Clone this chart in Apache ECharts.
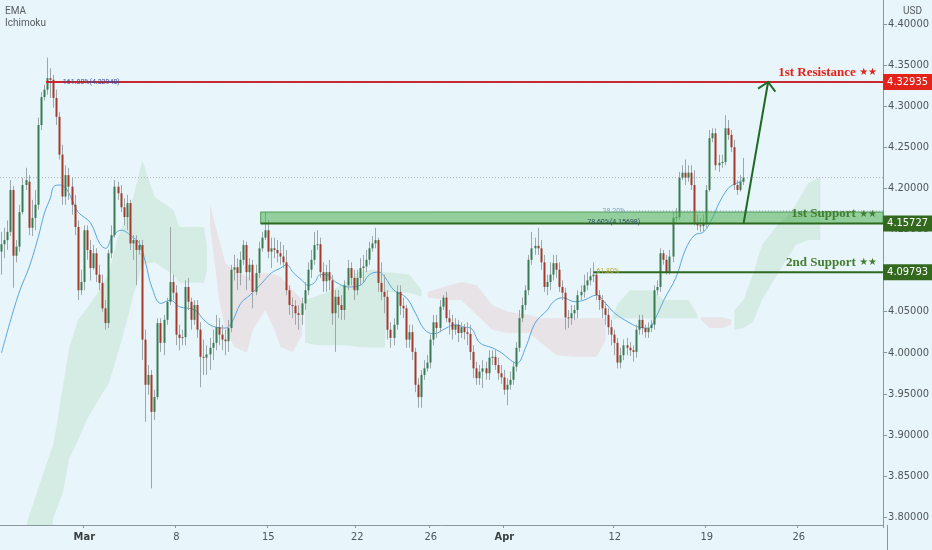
<!DOCTYPE html>
<html><head><meta charset="utf-8">
<script src="https://cdn.jsdelivr.net/npm/echarts@6/dist/echarts.min.js"></script>
<style>html,body{margin:0;padding:0;background:#e8f5fa;}#c{width:932px;height:550px;}</style>
</head><body><div id="c"></div>
<script>
// ---------- data (4H candles) ----------
const opens = [
4.123,4.132,4.137,4.147,4.198,4.118,4.129,4.171,4.204,4.208,
4.152,4.164,4.180,4.277,4.311,4.320,4.334,4.332,4.310,4.287,
4.241,4.190,4.216,4.202,4.180,4.153,4.076,4.086,4.149,4.125,
4.103,4.121,4.095,4.085,4.054,4.036,4.121,4.143,4.202,4.194,
4.177,4.165,4.182,4.133,4.137,4.125,4.131,4.016,3.961,3.973,
3.928,3.946,4.036,4.012,4.040,4.062,4.086,4.073,4.022,4.018,
4.019,4.080,4.062,4.040,4.058,4.028,3.995,3.994,3.998,4.006,
4.012,4.031,4.022,4.016,4.014,4.030,4.101,4.104,4.097,4.113,
4.131,4.098,4.107,4.074,4.097,4.127,4.140,4.149,4.123,4.127,
4.125,4.121,4.117,4.110,4.076,4.058,4.057,4.048,4.046,4.060,
4.076,4.101,4.113,4.131,4.132,4.098,4.087,4.098,4.088,4.048,
4.068,4.058,4.052,4.082,4.103,4.091,4.076,4.091,4.103,4.105,
4.113,4.127,4.133,4.137,4.085,4.074,4.068,4.028,4.018,4.034,
4.074,4.057,4.054,4.016,4.025,4.001,3.961,3.946,3.973,3.981,
3.988,4.016,4.037,4.030,4.056,4.067,4.042,4.037,4.028,4.034,
4.024,4.031,4.025,4.023,4.001,3.981,3.969,3.977,3.981,3.975,
3.994,3.995,3.985,3.975,3.970,3.955,3.961,3.967,3.983,4.006,
4.042,4.058,4.076,4.113,4.127,4.130,4.127,4.110,4.080,4.086,
4.095,4.109,4.101,4.080,4.073,4.043,4.042,4.048,4.052,4.070,
4.074,4.082,4.088,4.093,4.095,4.070,4.064,4.054,4.046,4.031,
4.022,4.012,3.988,3.997,4.009,4.006,4.003,4.001,4.028,4.040,
4.030,4.025,4.030,4.034,4.076,4.080,4.121,4.113,4.098,4.117,
4.164,4.165,4.213,4.219,4.213,4.219,4.204,4.158,4.155,4.154,
4.158,4.198,4.261,4.267,4.228,4.231,4.232,4.273,4.265,4.250,
4.204,4.198,4.208];
const closes = [
4.132,4.137,4.147,4.198,4.118,4.129,4.171,4.204,4.210,4.152,
4.164,4.180,4.277,4.311,4.320,4.334,4.332,4.310,4.287,4.241,
4.190,4.216,4.202,4.180,4.153,4.076,4.086,4.149,4.125,4.103,
4.121,4.095,4.085,4.054,4.036,4.121,4.143,4.202,4.194,4.177,
4.165,4.182,4.133,4.137,4.125,4.131,4.016,3.961,3.973,3.928,
3.946,4.036,4.012,4.040,4.062,4.086,4.073,4.022,4.018,4.019,
4.080,4.062,4.040,4.058,4.028,3.995,3.994,3.998,4.006,4.012,
4.031,4.022,4.016,4.014,4.030,4.101,4.104,4.097,4.113,4.131,
4.098,4.107,4.074,4.097,4.127,4.140,4.149,4.123,4.127,4.125,
4.121,4.117,4.110,4.076,4.058,4.057,4.048,4.046,4.060,4.076,
4.101,4.113,4.131,4.132,4.098,4.087,4.098,4.088,4.048,4.068,
4.058,4.052,4.082,4.103,4.091,4.076,4.091,4.103,4.105,4.113,
4.127,4.133,4.137,4.085,4.074,4.068,4.028,4.018,4.034,4.074,
4.057,4.054,4.016,4.025,4.001,3.961,3.946,3.973,3.981,3.988,
4.016,4.037,4.030,4.056,4.067,4.042,4.037,4.028,4.034,4.024,
4.031,4.025,4.023,4.001,3.981,3.969,3.977,3.981,3.975,3.994,
3.995,3.985,3.975,3.970,3.955,3.961,3.967,3.983,4.006,4.042,
4.058,4.076,4.113,4.127,4.130,4.127,4.110,4.080,4.086,4.095,
4.109,4.101,4.080,4.073,4.043,4.042,4.048,4.052,4.070,4.074,
4.082,4.088,4.093,4.095,4.070,4.064,4.054,4.046,4.031,4.022,
4.012,3.988,3.997,4.009,4.006,4.003,4.001,4.028,4.040,4.030,
4.025,4.030,4.034,4.076,4.080,4.121,4.113,4.098,4.117,4.164,
4.165,4.213,4.219,4.213,4.219,4.204,4.158,4.155,4.154,4.158,
4.198,4.261,4.267,4.228,4.231,4.232,4.273,4.265,4.250,4.204,
4.198,4.208,4.213];
const lows = [
4.095,4.115,4.125,4.142,4.079,4.110,4.123,4.168,4.198,4.143,
4.142,4.149,4.174,4.271,4.307,4.314,4.310,4.298,4.277,4.235,
4.180,4.180,4.186,4.168,4.143,4.064,4.070,4.076,4.113,4.088,
4.101,4.086,4.076,4.050,4.028,4.030,4.115,4.140,4.186,4.171,
4.155,4.149,4.125,4.113,4.082,4.119,3.991,3.916,3.949,3.835,
3.918,3.943,4.001,3.997,4.034,4.058,4.064,4.009,4.003,4.009,
4.009,4.052,4.028,4.034,4.018,3.958,3.973,3.973,3.979,3.991,
4.003,4.009,4.003,3.997,4.001,4.025,4.088,4.076,4.082,4.107,
4.076,4.088,4.054,4.070,4.091,4.123,4.137,4.115,4.103,4.115,
4.110,4.107,4.103,4.070,4.046,4.042,4.034,4.028,4.034,4.052,
4.070,4.091,4.107,4.125,4.091,4.074,4.074,4.076,4.034,4.001,
4.042,4.040,4.040,4.076,4.082,4.064,4.070,4.082,4.086,4.098,
4.107,4.123,4.127,4.074,4.064,4.048,4.016,4.006,4.009,4.028,
4.046,4.042,4.006,4.006,3.991,3.952,3.933,3.933,3.967,3.977,
3.981,4.009,4.018,4.025,4.052,4.037,4.022,4.016,4.022,4.013,
4.018,4.016,4.009,3.991,3.969,3.961,3.961,3.957,3.967,3.967,
3.985,3.979,3.967,3.962,3.949,3.936,3.955,3.961,3.977,4.001,
4.037,4.052,4.070,4.107,4.119,4.119,4.101,4.074,4.070,4.076,
4.088,4.091,4.074,4.064,4.028,4.030,4.034,4.040,4.042,4.064,
4.067,4.076,4.082,4.086,4.064,4.052,4.042,4.034,4.022,4.009,
3.997,3.981,3.981,3.991,3.997,3.996,3.989,3.994,4.022,4.022,
4.018,4.018,4.025,4.028,4.070,4.074,4.107,4.095,4.095,4.110,
4.159,4.161,4.210,4.204,4.208,4.198,4.155,4.149,4.147,4.147,
4.152,4.196,4.256,4.222,4.220,4.225,4.228,4.259,4.244,4.198,
4.192,4.196,4.204];
const highs = [
4.147,4.152,4.161,4.210,4.203,4.137,4.180,4.213,4.225,4.216,
4.186,4.198,4.286,4.317,4.326,4.359,4.346,4.338,4.320,4.293,
4.253,4.228,4.225,4.213,4.192,4.161,4.101,4.155,4.155,4.137,
4.131,4.127,4.107,4.095,4.064,4.125,4.155,4.210,4.208,4.204,
4.188,4.192,4.186,4.143,4.143,4.137,4.137,4.028,3.985,3.979,
3.955,4.042,4.042,4.046,4.067,4.153,4.095,4.082,4.034,4.028,
4.088,4.091,4.067,4.064,4.064,4.037,4.016,4.009,4.018,4.028,
4.046,4.042,4.034,4.028,4.040,4.107,4.119,4.115,4.123,4.137,
4.135,4.115,4.113,4.107,4.135,4.147,4.171,4.161,4.140,4.140,
4.137,4.135,4.131,4.125,4.082,4.067,4.064,4.058,4.067,4.086,
4.110,4.125,4.147,4.149,4.140,4.110,4.107,4.113,4.095,4.076,
4.076,4.070,4.088,4.113,4.110,4.101,4.101,4.115,4.119,4.125,
4.135,4.142,4.152,4.140,4.110,4.095,4.076,4.037,4.042,4.082,
4.082,4.067,4.058,4.034,4.034,4.006,3.969,3.979,3.991,3.997,
4.022,4.046,4.046,4.064,4.070,4.074,4.052,4.046,4.042,4.040,
4.037,4.035,4.037,4.034,4.009,3.989,3.985,3.991,3.989,4.003,
4.003,4.003,3.994,3.985,3.979,3.969,3.977,3.989,4.013,4.052,
4.067,4.082,4.119,4.147,4.140,4.152,4.137,4.119,4.095,4.110,
4.119,4.119,4.110,4.088,4.079,4.052,4.058,4.058,4.076,4.082,
4.095,4.098,4.103,4.110,4.098,4.076,4.070,4.062,4.054,4.040,
4.028,4.018,4.006,4.016,4.018,4.013,4.009,4.034,4.046,4.046,
4.034,4.037,4.040,4.082,4.088,4.127,4.125,4.119,4.125,4.171,
4.176,4.220,4.228,4.235,4.228,4.228,4.222,4.168,4.164,4.168,
4.204,4.271,4.273,4.273,4.241,4.241,4.289,4.283,4.271,4.259,
4.210,4.216,4.237];

// EMA read at sample bars: [bar, value]
const emaPoints = [[0,4.000],[3,4.040],[6,4.076],[9,4.104],[12,4.141],[14,4.170],[16,4.189],[17,4.202],[19,4.204],[21,4.200],[23,4.186],[25,4.171],[29,4.158],[32,4.133],[34,4.127],[36,4.140],[39,4.149],[43,4.140],[45,4.133],[47,4.109],[49,4.080],[52,4.060],[55,4.064],[58,4.056],[63,4.052],[66,4.040],[69,4.032],[73,4.030],[75,4.036],[78,4.060],[81,4.070],[85,4.085],[88,4.097],[91,4.103],[93,4.107],[95,4.098],[98,4.088],[100,4.082],[102,4.085],[104,4.095],[106,4.095],[109,4.086],[113,4.080],[117,4.082],[120,4.095],[123,4.098],[125,4.092],[128,4.076],[132,4.067],[135,4.048],[138,4.028],[141,4.023],[145,4.030],[148,4.034],[151,4.031],[153,4.030],[156,4.012],[160,4.006],[163,4.000],[166,3.991],[168,3.987],[171,4.007],[174,4.036],[178,4.052],[180,4.062],[183,4.067],[187,4.062],[190,4.064],[194,4.070],[197,4.060],[200,4.048],[205,4.036],[208,4.031],[211,4.030],[213,4.040],[216,4.064],[220,4.092],[223,4.125],[226,4.143],[229,4.147],[232,4.165],[234,4.182],[237,4.200],[239,4.205],[242,4.210]];

// Ichimoku cloud segments: [bar, upper edge, lower edge]
const cloudG1 = [[8,3.790,3.700],[12,3.835,3.700],[17,3.890,3.800],[20,3.958,3.830],[22,4.005,3.870],[25,4.040,3.894],[28,4.055,3.920],[32,4.076,3.945],[35,4.097,3.963],[38,4.141,4.000],[41,4.168,4.040],[43,4.190,4.070],[46,4.234,4.107],[48,4.210,4.109],[50,4.189,4.110],[56,4.174,4.095],[58,4.153,4.085],[66,4.153,4.085],[67,4.130,4.100]];
const cloudR1 = [[68,4.180,4.155],[71,4.137,4.064],[73,4.109,4.028],[76,4.101,4.007],[80,4.092,4.000],[82,4.095,4.028],[86,4.097,4.052],[89,4.095,4.028],[91,4.092,4.007],[95,4.076,4.001],[98,4.064,4.022]];
const cloudG2 = [[99,4.064,4.012],[103,4.069,4.009],[108,4.076,4.009],[113,4.088,4.009],[116,4.098,4.007],[121,4.101,4.006],[125,4.098,4.006],[126,4.098,4.074],[133,4.095,4.073],[137,4.076,4.068]];
const cloudR2 = [[139,4.074,4.067],[146,4.082,4.064],[150,4.086,4.064],[155,4.082,4.046],[160,4.058,4.028],[165,4.050,4.024],[172,4.046,4.024],[176,4.042,4.012],[181,4.042,3.997],[187,4.042,3.995],[194,4.042,3.995],[197,4.042,4.015]];
const cloudG3 = [[199,4.042,4.040],[201,4.060,4.042],[205,4.076,4.042],[212,4.076,4.042],[216,4.064,4.042],[224,4.064,4.042],[227,4.046,4.042]];
const cloudR3 = [[228,4.043,4.040],[231,4.043,4.030],[235,4.043,4.030],[238,4.040,4.034]];
const cloudG4 = [[239,4.052,4.028],[242,4.064,4.030],[245,4.095,4.037],[248,4.131,4.064],[253,4.155,4.095],[256,4.165,4.113],[259,4.180,4.131],[263,4.206,4.137],[267,4.214,4.137]];

// axis ticks
const yTicks = [3.80,3.85,3.90,3.95,4.00,4.05,4.10,4.15,4.20,4.25,4.30,4.35,4.40];
const dateTickBars = [27,57,87,116,140,164,200,230,260];
const dateTickLabels = ['Mar','8','15','22','26','Apr','12','19','26'];
const monthLabels = ['Mar','Apr'];

// levels and drawings
const resistance = 4.32935, support1 = 4.15727, support2 = 4.09793;
const zoneTop = 4.1712, lastPrice = 4.2130;
const resistanceStartBar = 15, zoneStartBar = 85, support2StartBar = 193;
const levelNames = ['1st Resistance','1st Support','2nd Support'];
const levelStars = '★★';
const levelValues = [resistance, support1, support2];
const levelBoxTexts = ['4.32935','4.15727','4.09793'];
const fibLabels = ['161.80%(4.32940)','38.20%','78.60%(4.15698)','61.80%'];
const fibValues = [4.32940, 4.1712, 4.15698, 4.09793];
const fibLabelBars = [20, 196, 191, 194];
const fib161StartBar = 15, fib382StartBar = 202;
const arrowFrom = [242, support1], arrowTo = [250, resistance];

// ---------- chart ----------
const SLOTS = 288;
const cats = [];
for (let i = 0; i < SLOTS; i++) cats.push('');
dateTickBars.forEach((b, k) => { cats[b] = dateTickLabels[k]; });

const candleData = opens.map((o, i) => [i, o, closes[i], lows[i], highs[i]]);

function renderCandle(params, api) {
  const i = api.value(0), o = api.value(1), c = api.value(2), l = api.value(3), h = api.value(4);
  const pO = api.coord([i, o]), pC = api.coord([i, c]), pL = api.coord([i, l]), pH = api.coord([i, h]);
  const cx = pO[0];
  const up = c >= o;
  const top = Math.min(pO[1], pC[1]), bot = Math.max(pO[1], pC[1]);
  const wx = Math.floor(cx) + 0.5;
  return { type: 'group', children: [
    { type: 'line', shape: { x1: wx, y1: pH[1], x2: wx, y2: pL[1] }, style: { stroke: '#9ea7a9', lineWidth: 1 } },
    { type: 'rect', shape: { x: Math.floor(cx) - 0.5, y: top, width: 2, height: Math.max(1, bot - top) },
      style: { fill: up ? '#3b7b52' : '#a33a2b' } }
  ]};
}

function makeCloudSeries(segs, fill) {
  return {
    type: 'custom', coordinateSystem: 'cartesian2d', clip: true, silent: true, z: 1,
    data: segs.map(s => [s[0][0], s[0][1]]),
    encode: { x: 0, y: 1 },
    renderItem: (params, api) => {
      const seg = segs[params.dataIndex];
      const pts = seg.map(p => api.coord([p[0], p[1]]));
      const lower = seg.map(p => api.coord([p[0], p[2]])).reverse();
      return { type: 'polygon', shape: { points: pts.concat(lower) }, style: { fill } };
    }
  };
}

function renderOverlay(params, api) {
  const cs = params.coordSys;
  const right = cs.x + cs.width;
  const W = api.getWidth();
  const slot = cs.width / SLOTS;
  const P = (i, v) => api.coord([i, v]);
  const kids = [];
  const hline = (x1, y, x2, stroke, w, dash) => kids.push({ type: 'line',
    shape: { x1, y1: y, x2, y2: y }, style: { stroke, lineWidth: w, lineDash: dash || null } });
  const serifFam = '"Liberation Serif", "DejaVu Serif", serif';
  const small = '7px Roboto, "DejaVu Sans", sans-serif';
  const boxFont = '11px "Liberation Sans Narrow", "DejaVu Sans Condensed", sans-serif';

  // last price dotted line
  hline(cs.x, P(0, lastPrice)[1], right, '#a9b2b6', 1, [1, 2]);

  // support zone
  const zt = P(zoneStartBar, zoneTop), zb = P(zoneStartBar, support1);
  const zx = zt[0] - slot / 2;
  kids.push({ type: 'rect', shape: { x: zx, y: zt[1], width: right - zx, height: zb[1] - zt[1] },
    style: { fill: 'rgba(76,175,80,0.55)', stroke: 'rgba(56,142,60,0.8)', lineWidth: 1 } });

  // resistance line + fib dotted overlay
  const yR = P(0, resistance)[1];
  hline(P(resistanceStartBar, resistance)[0] - slot / 2, yR, right, '#e32219', 2.2);
  hline(P(fib161StartBar, fibValues[0])[0], P(0, fibValues[0])[1], right, '#3b4aa0', 1, [1, 2]);
  // 38.2% dotted
  hline(P(fib382StartBar, fibValues[1])[0], P(0, fibValues[1])[1] - 1, right, '#7f9fb8', 1, [1, 2]);

  // support lines
  hline(zx, P(0, support1)[1], right, '#2d6a1f', 2);
  hline(P(support2StartBar, support2)[0], P(0, support2)[1], right, '#2d6a1f', 2);

  // arrow
  const a1 = P(arrowFrom[0], arrowFrom[1]), a2 = P(arrowTo[0], arrowTo[1]);
  kids.push({ type: 'line', shape: { x1: a1[0], y1: a1[1], x2: a2[0], y2: a2[1] }, style: { stroke: '#1e6a22', lineWidth: 2 } });
  const ang = Math.atan2(a2[1] - a1[1], a2[0] - a1[0]);
  const L = 12, sp = 0.82;
  kids.push({ type: 'polyline', shape: { points: [
    [a2[0] - L * Math.cos(ang - sp), a2[1] - L * Math.sin(ang - sp)], [a2[0], a2[1]],
    [a2[0] - L * Math.cos(ang + sp), a2[1] - L * Math.sin(ang + sp)] ] },
    style: { stroke: '#1e6a22', lineWidth: 2, fill: null } });

  // fib labels
  const fibColors = ['#3b4aa0', '#7fa2bf', '#2f4c63', '#bfae3a'];
  const fibDy = [0, -1, -1, -1];
  fibLabels.forEach((t, k) => {
    const p = P(fibLabelBars[k], fibValues[k]);
    kids.push({ type: 'text', x: p[0], y: p[1] + fibDy[k], style: { text: t, fill: fibColors[k], font: small, align: 'left', verticalAlign: 'middle' } });
  });

  // level names and price boxes
  const nameColors = ['#e32219', '#437d2f', '#437d2f'];
  const boxColors = ['#e32219', '#33691e', '#33691e'];
  levelValues.forEach((v, k) => {
    const y = P(0, v)[1];
    kids.push({ type: 'text', x: right - 6, y: y - 3, style: {
      text: '{t|' + levelNames[k] + '} {s|' + levelStars + '}',
      align: 'right', verticalAlign: 'bottom',
      rich: {
        t: { fill: nameColors[k], fontFamily: serifFam, fontWeight: 'bold', fontSize: 13 },
        s: { fill: nameColors[k], fontFamily: '"DejaVu Sans", sans-serif', fontSize: 10 }
      } } });
    kids.push({ type: 'rect', shape: { x: right, y: y - 8, width: W - right, height: 16 }, style: { fill: boxColors[k] } });
    kids.push({ type: 'text', x: right + (W - right) / 2, y: y, style: { text: levelBoxTexts[k], fill: '#ffffff', font: boxFont, align: 'center', verticalAlign: 'middle' } });
  });
  return { type: 'group', children: kids };
}

const chart = echarts.init(document.getElementById('c'), null, { renderer: 'canvas' });
chart.setOption({
  backgroundColor: '#e8f5fa',
  animation: false,
  grid: { left: 0, right: 45, top: 0, bottom: 25, containLabel: false },
  xAxis: {
    type: 'category', data: cats, boundaryGap: true,
    axisLine: { lineStyle: { color: '#8c979c', width: 1 } },
    axisTick: { show: true, length: 3, interval: (i, v) => v !== '', lineStyle: { color: '#8c979c' } },
    axisLabel: {
      interval: (i, v) => v !== '', margin: 7, color: '#4f5659', fontSize: 11,
      fontFamily: '"Liberation Sans Narrow", "DejaVu Sans Condensed", sans-serif',
      formatter: v => monthLabels.indexOf(v) >= 0 ? '{b|' + v + '}' : v,
      rich: { b: { fontWeight: 'bold', fontSize: 11, color: '#3a4043', fontFamily: '"Liberation Sans Narrow", "DejaVu Sans Condensed", sans-serif' } }
    },
    splitLine: { show: false }
  },
  yAxis: {
    type: 'value', position: 'right', min: 3.7904, max: 4.4291, scale: true,
    axisLine: { show: true, lineStyle: { color: '#8c979c' } },
    axisTick: { show: true, length: 4, customValues: yTicks, lineStyle: { color: '#8c979c' } },
    axisLabel: { customValues: yTicks, margin: 5, color: '#4f5659', fontSize: 11,
      fontFamily: '"Liberation Sans Narrow", "DejaVu Sans Condensed", sans-serif',
      formatter: v => v.toFixed(5) },
    splitLine: { show: false }
  },
  graphic: [
    { type: 'text', left: 5, top: 6, style: { text: 'EMA', fill: '#555b5e', font: '10px Roboto, sans-serif' } },
    { type: 'text', left: 5, top: 18, style: { text: 'Ichimoku', fill: '#555b5e', font: '10px Roboto, sans-serif' } },
    { type: 'text', left: 903, top: 6, style: { text: 'USD', fill: '#555b5e', font: '10px Roboto, sans-serif' } },
    { type: 'line', shape: { x1: 887.5, y1: 525, x2: 887.5, y2: 550 }, style: { stroke: '#8c979c', lineWidth: 1 } }
  ],
  series: [
    makeCloudSeries([cloudG1, cloudG2, cloudG3, cloudG4], 'rgba(76,175,80,0.13)'),
    makeCloudSeries([cloudR1, cloudR2, cloudR3], 'rgba(239,83,80,0.11)'),
    { type: 'line', data: emaPoints, smooth: 0.4, showSymbol: false, silent: true, z: 2,
      lineStyle: { color: '#5aa6df', width: 1 } },
    { type: 'custom', data: candleData, encode: { x: 0, y: [1, 2, 3, 4] }, renderItem: renderCandle, clip: true, z: 3 },
    { type: 'custom', data: [[0, resistance]], encode: { x: 0, y: 1 }, renderItem: renderOverlay, clip: false, z: 10, silent: true }
  ]
});
</script>
</body></html>
